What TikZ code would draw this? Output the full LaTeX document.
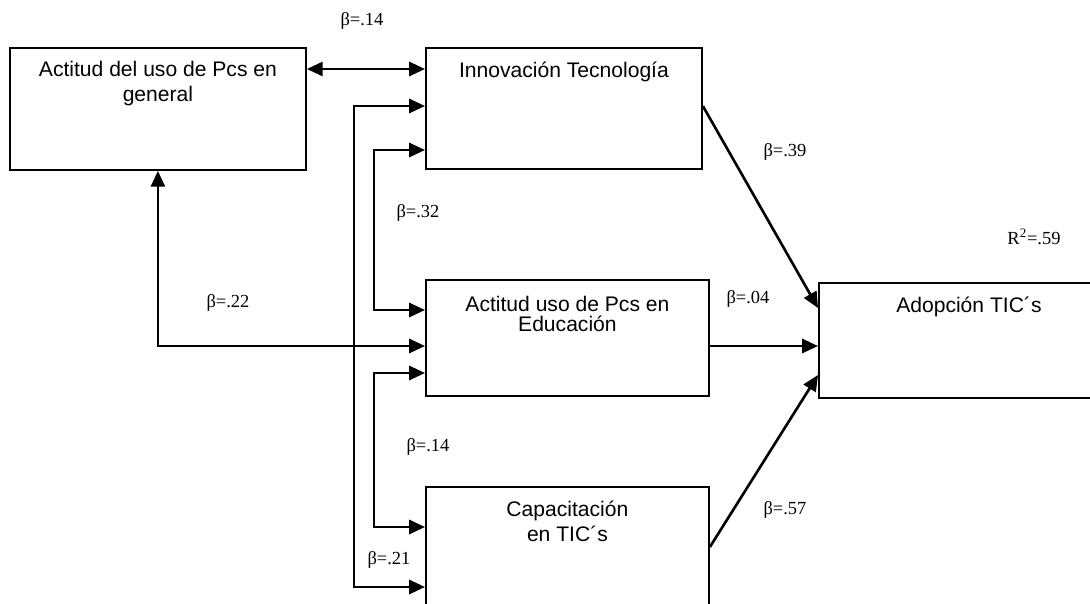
\documentclass[tikz,border=0pt]{standalone}
\usepackage{fontspec}
\setmainfont{Liberation Serif}
\newfontfamily\arial{Liberation Sans}
\usetikzlibrary{arrows.meta,calc,positioning}

\begin{document}
\begin{tikzpicture}[x=0.02cm,y=-0.02cm,
    caja/.style={draw,line width=1.1pt,anchor=north west,inner sep=0pt},
    texto/.style={anchor=base,align=center,inner sep=0pt,
                  font=\arial\fontsize{12}{13.8}\selectfont},
    coef/.style={inner sep=0pt,font=\fontsize{10.5}{12}\selectfont},
    punta/.tip={Triangle[length=9pt,width=8pt]},
    flecha/.style={line width=1.5pt,-punta},
    doble/.style={line width=1.5pt,punta-punta}]
  \clip (0,0) rectangle (1090,603);

  \node[caja,minimum width=5.92cm,minimum height=2.44cm] (gen) at (9,47) {};
  \node[caja,minimum width=5.52cm,minimum height=2.42cm] (inn) at (425,47) {};
  \node[caja,minimum width=5.66cm,minimum height=2.32cm] (edu) at (425,279) {};
  \node[caja,minimum width=5.66cm,minimum height=3cm] (cap) at (425,486) {};
  \node[caja,minimum width=6cm,minimum height=2.3cm] (ado) at (818,282) {};

  \node[texto] (genT) at ($(gen.north)+(0,54)$) {Actitud del uso de Pcs en\\general};
  \node[texto] (innT) at ($(inn.north)+(0,30)$) {Innovación Tecnología};
  \node[texto] (eduT) at ($(edu.north)+(0,52)$) {Actitud uso de Pcs en\\[-2.5pt]Educación};
  \node[texto] (capT) at ($(cap.north)+(0,55)$) {Capacitación\\en TIC´s};
  \node[texto] (adoT) at ($(ado.north)+(0,30)$) {Adopción TIC´s};

  \coordinate (f1) at (0,69);
  \coordinate (r1) at (354,106);
  \coordinate (r2) at (354,587);
  \coordinate (s1) at (374,150);
  \coordinate (s2) at (374,310);
  \coordinate (s3) at (374,373);
  \coordinate (s4) at (374,527);
  \coordinate (t1) at (157,346);
  \coordinate (e1) at (0,308);
  \coordinate (e3) at (0,375);
  \coordinate (c1) at (0,547);

  \draw[doble] (gen.east |- f1) -- (inn.west |- f1);
  \draw[doble] (inn.west |- r1) -- (r1) -- (r2) -- (cap.west |- r2);
  \draw[doble] (inn.west |- s1) -- (s1) -- (s2) -- (edu.west |- s2);
  \draw[doble] (edu.west |- s3) -- (s3) -- (s4) -- (cap.west |- s4);
  \draw[doble] (gen.south) -- (gen.south |- t1) -- (edu.west |- t1);
  \draw[flecha] (inn.east |- r1) -- (ado.west |- e1);
  \draw[flecha] (edu.east |- t1) -- (ado.west |- t1);
  \draw[flecha] (cap.east |- c1) -- (ado.west |- e3);

  \node[coef] (b1) at (362,21) {β=.14};
  \node[coef] (b2) at (785,152) {β=.39};
  \node[coef] (b3) at (418,213) {β=.32};
  \node[coef] (r) at (1034,237) {R\textsuperscript{2}=.59};
  \node[coef] (b4) at (228,303) {β=.22};
  \node[coef] (b5) at (748,299) {β=.04};
  \node[coef] (b6) at (428,447) {β=.14};
  \node[coef] (b7) at (785,510) {β=.57};
  \node[coef] (b8) at (389,560) {β=.21};
\end{tikzpicture}
\end{document}
